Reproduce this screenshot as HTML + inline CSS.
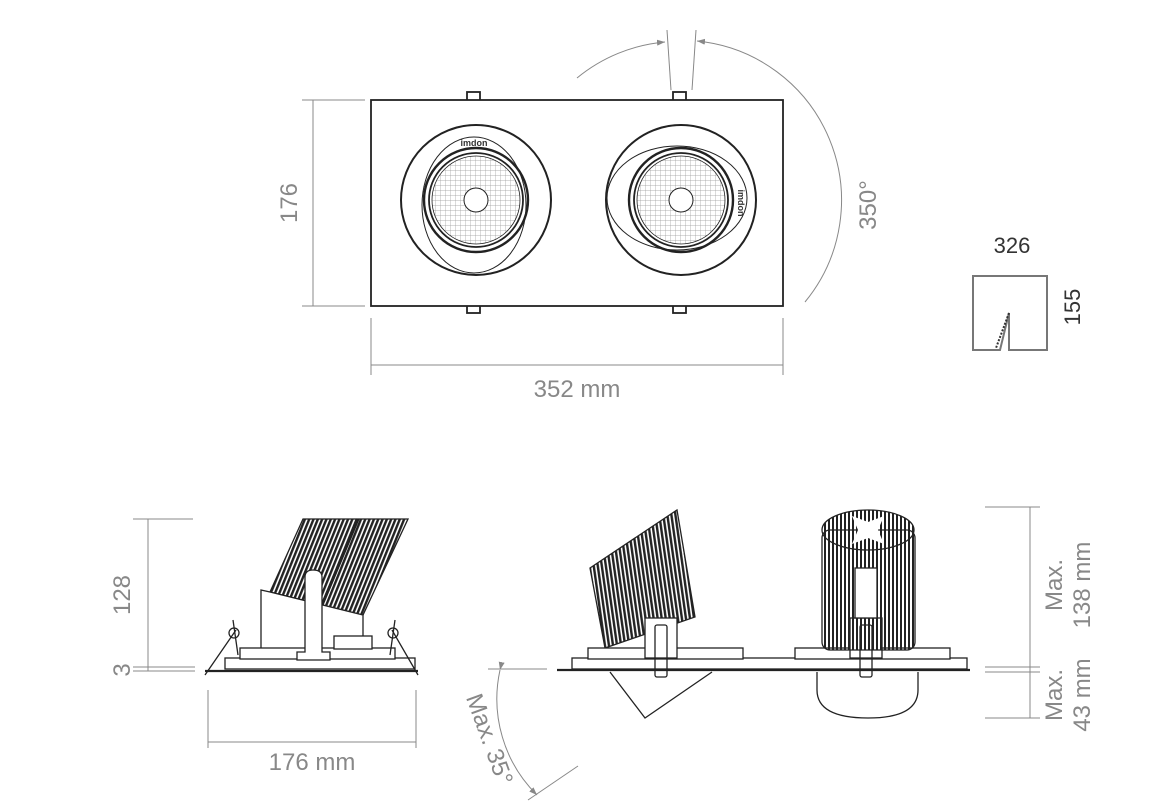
<!DOCTYPE html>
<html><head><meta charset="utf-8"><style>
html,body{margin:0;padding:0;background:#fff;}
svg{display:block;}
.g{fill:#888;font-family:"Liberation Sans",sans-serif;}
.d{fill:#333;font-family:"Liberation Sans",sans-serif;}
</style></head><body>
<svg width="1167" height="806" viewBox="0 0 1167 806" xmlns="http://www.w3.org/2000/svg">
<defs>
<pattern id="mesh" width="5" height="5" patternUnits="userSpaceOnUse"><path d="M0 0H5M0 0V5" stroke="#999" stroke-width="0.7" fill="none"/></pattern>
<pattern id="hatchA" width="4" height="10" patternUnits="userSpaceOnUse" patternTransform="rotate(22)"><rect width="2.4" height="10" fill="#222"/></pattern>
<pattern id="hatchB" width="4" height="10" patternUnits="userSpaceOnUse" patternTransform="rotate(-8)"><rect width="2.4" height="10" fill="#222"/></pattern>
<pattern id="hatchV" width="4" height="10" patternUnits="userSpaceOnUse"><rect width="2" height="10" fill="#222"/></pattern>
<marker id="ar" markerWidth="8" markerHeight="6" refX="8" refY="3" orient="auto"><path d="M0 0L8 3L0 6z" fill="#888"/></marker>
</defs>

<!-- TOP VIEW -->
<g fill="none" stroke="#222" stroke-width="1.8">
<rect x="467" y="92" width="13" height="9" fill="#fff"/><rect x="673" y="92" width="13" height="9" fill="#fff"/>
<rect x="467" y="305" width="13" height="8" fill="#fff"/><rect x="673" y="305" width="13" height="8" fill="#fff"/>
<rect x="371" y="100" width="412" height="206" fill="#fff"/>
</g>
<g stroke="#222" fill="none">
<circle cx="476" cy="200" r="75" stroke-width="2"/>
<ellipse cx="474" cy="205" rx="52" ry="68" stroke-width="1"/>
<circle cx="476" cy="200" r="52" stroke-width="2.4"/>
<circle cx="476" cy="200" r="47" stroke-width="1.8"/>
<circle cx="476" cy="200" r="44" fill="url(#mesh)" stroke-width="0.8"/>
<circle cx="476" cy="200" r="12" fill="#fff" stroke-width="1"/>
<circle cx="681" cy="200" r="75" stroke-width="2"/>
<ellipse cx="677" cy="198" rx="70" ry="52" stroke-width="1"/>
<circle cx="681" cy="200" r="52" stroke-width="2.4"/>
<circle cx="681" cy="200" r="47" stroke-width="1.8"/>
<circle cx="681" cy="200" r="44" fill="url(#mesh)" stroke-width="0.8"/>
<circle cx="681" cy="200" r="12" fill="#fff" stroke-width="1"/>
</g>
<text x="474" y="146" font-size="9" font-weight="bold" text-anchor="middle" class="d" fill="#111">imdon</text>
<text x="0" y="0" font-size="9" font-weight="bold" text-anchor="middle" class="d" fill="#111" transform="translate(738,203) rotate(90)">imdon</text>

<g stroke="#888" fill="none" stroke-width="1">
<line x1="302" y1="100" x2="365" y2="100"/><line x1="302" y1="306" x2="365" y2="306"/>
<line x1="313" y1="100" x2="313" y2="306"/>
<line x1="371" y1="318" x2="371" y2="375"/><line x1="783" y1="318" x2="783" y2="375"/>
<line x1="371" y1="365" x2="783" y2="365"/>
<path d="M577 78 A160 160 0 0 1 665 42" marker-end="url(#ar)"/>
<path d="M805 302 A160 160 0 0 0 697 41" marker-end="url(#ar)"/>
<line x1="667" y1="30" x2="671" y2="90"/><line x1="696" y1="30" x2="692" y2="90"/>
</g>
<text class="g" font-size="24" text-anchor="middle" transform="translate(297,203) rotate(-90)">176</text>
<text class="g" font-size="24" x="577" y="397" text-anchor="middle">352 mm</text>
<text class="g" font-size="24" text-anchor="middle" transform="translate(876,205) rotate(-90)">350°</text>

<!-- small icon -->
<path d="M973 276 H1047 V350 H1009 V313 L1000 350 H973 Z" fill="none" stroke="#777" stroke-width="2"/>
<path d="M1009 313 L996 348" stroke="#333" stroke-width="2" stroke-dasharray="2 1.5"/>
<text class="d" font-size="22" x="1012" y="253" text-anchor="middle">326</text>
<text class="d" font-size="22" text-anchor="middle" transform="translate(1080,307) rotate(-90)">155</text>

<!-- BOTTOM LEFT -->
<g stroke="#888" fill="none" stroke-width="1">
<line x1="133" y1="519" x2="193" y2="519"/><line x1="133" y1="667" x2="195" y2="667"/><line x1="133" y1="671" x2="195" y2="671"/>
<line x1="148" y1="519" x2="148" y2="671"/>
<line x1="208" y1="690" x2="208" y2="748"/><line x1="416" y1="690" x2="416" y2="748"/>
<line x1="208" y1="742" x2="416" y2="742"/>
</g>
<text class="g" font-size="24" text-anchor="middle" transform="translate(130,595) rotate(-90)">128</text>
<text class="g" font-size="24" text-anchor="middle" transform="translate(130,670) rotate(-90)">3</text>
<text class="g" font-size="24" x="312" y="770" text-anchor="middle">176 mm</text>

<g stroke="#222" stroke-width="1.3" fill="#fff">
<polygon points="303,519 408,519 363,615 270,592" fill="url(#hatchA)"/>
<line x1="358" y1="519" x2="322" y2="605" stroke-width="3"/>
<polygon points="261,590 270,592 363,615 363,650 261,650"/>
<rect x="225" y="658" width="190" height="11"/>
<rect x="240" y="648" width="155" height="11"/>
<rect x="334" y="636" width="38" height="13"/>
<path d="M305 577 Q305 570 313 570 Q322 570 322 577 V652 H330 V660 H297 V652 H305 Z"/>
<line x1="205" y1="671" x2="418" y2="671" stroke-width="2.2"/>
<path d="M205 675 L236 630 M418 675 L392 630" fill="none"/>
<circle cx="234" cy="633" r="5" fill="none"/><circle cx="393" cy="633" r="5" fill="none"/>
<line x1="233" y1="620" x2="238" y2="655" fill="none"/><line x1="395" y1="620" x2="390" y2="655" fill="none"/>
</g>

<!-- BOTTOM RIGHT -->
<g stroke="#888" fill="none" stroke-width="1">
<line x1="985" y1="507" x2="1040" y2="507"/><line x1="985" y1="667" x2="1040" y2="667"/><line x1="985" y1="672" x2="1040" y2="672"/><line x1="985" y1="718" x2="1040" y2="718"/>
<line x1="1030" y1="507" x2="1030" y2="718"/>
<line x1="488" y1="669" x2="547" y2="669"/>
<path d="M500 670 A135 135 0 0 0 537 795" marker-start="url(#ar)" marker-end="url(#ar)"/>
<line x1="528" y1="800" x2="578" y2="766"/>
</g>
<g class="g" font-size="24" text-anchor="middle">
<text transform="translate(1062,585) rotate(-90)">Max.</text>
<text transform="translate(1090,585) rotate(-90)">138 mm</text>
<text transform="translate(1062,695) rotate(-90)">Max.</text>
<text transform="translate(1090,695) rotate(-90)">43 mm</text>
<text transform="translate(482,742) rotate(70)">Max. 35°</text>
</g>

<g stroke="#222" stroke-width="1.3" fill="#fff">
<polygon points="590,568 677,510 695,617 605,648" fill="url(#hatchB)"/>
<path d="M610 672 L645 718 L712 672" fill="none"/>
<path d="M817 672 V690 Q817 718 868 718 Q918 718 918 690 V672" fill="none"/>
<rect x="572" y="658" width="395" height="11"/>
<rect x="588" y="648" width="155" height="11"/>
<rect x="795" y="648" width="155" height="11"/>
<rect x="645" y="618" width="32" height="40"/>
<rect x="850" y="618" width="32" height="40"/>
<rect x="822" y="530" width="93" height="120" fill="url(#hatchV)" rx="8"/>
<rect x="855" y="568" width="22" height="50"/>
<ellipse cx="868" cy="530" rx="46" ry="20" fill="url(#hatchV)"/>
<path d="M852 516 L868 522 L884 516 L878 530 L884 544 L868 538 L852 544 L858 530 Z" fill="#fff" stroke="none"/>
<rect x="655" y="625" width="12" height="52" rx="2" fill="none"/>
<rect x="860" y="625" width="12" height="52" rx="2" fill="none"/>
<line x1="557" y1="670" x2="970" y2="670" stroke-width="2.2"/>
</g>
</svg>
</body></html>
